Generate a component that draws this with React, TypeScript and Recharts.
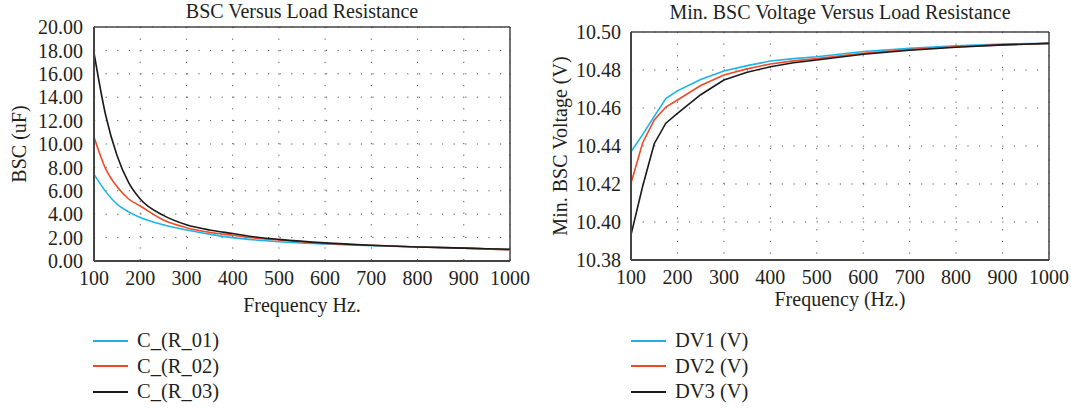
import { LineChart, Line, XAxis, YAxis, CartesianGrid, ReferenceLine } from 'recharts';

const freq = [100, 125, 150, 175, 200, 250, 300, 350, 400, 450, 500, 600, 700, 800, 900, 1000];

// BSC (uF)
const bscR01 = [7.4, 5.95, 4.85, 4.2, 3.72, 3.1, 2.65, 2.3, 2.0, 1.8, 1.65, 1.45, 1.3, 1.2, 1.1, 0.97];
const bscR02 = [10.6, 7.9, 6.35, 5.3, 4.7, 3.5, 2.85, 2.45, 2.2, 1.95, 1.8, 1.5, 1.35, 1.2, 1.1, 0.95];
const bscR03 = [17.8, 12.5, 9.0, 6.7, 5.3, 3.9, 3.1, 2.65, 2.35, 2.05, 1.85, 1.55, 1.35, 1.2, 1.1, 1.0];

// Min. BSC voltage (V)
const dv1 = [10.437, 10.446, 10.4556, 10.465, 10.469, 10.475, 10.4795, 10.4823, 10.4847, 10.486, 10.487, 10.4897, 10.4914, 10.4928, 10.4937, 10.494];
const dv2 = [10.4204, 10.4416, 10.4537, 10.4605, 10.4642, 10.4718, 10.4774, 10.4806, 10.4832, 10.4848, 10.486, 10.4888, 10.4907, 10.4922, 10.4932, 10.494];
const dv3 = [10.3932, 10.4187, 10.4412, 10.452, 10.4572, 10.467, 10.4747, 10.4788, 10.4817, 10.4838, 10.4853, 10.4883, 10.4904, 10.492, 10.4932, 10.494];

const xTicks = [100, 200, 300, 400, 500, 600, 700, 800, 900, 1000];
const bscTicks = [0, 2, 4, 6, 8, 10, 12, 14, 16, 18, 20];
const dvTicks = [10.38, 10.4, 10.42, 10.44, 10.46, 10.48, 10.5];

const bscNames = ['C_(R_01)', 'C_(R_02)', 'C_(R_03)'];
const dvNames = ['DV1 (V)', 'DV2 (V)', 'DV3 (V)'];
const colors = ['#1cb4e8', '#f04a2a', '#1a1a1a'];

const bscData = freq.map((f, i) => ({ f, r1: bscR01[i], r2: bscR02[i], r3: bscR03[i] }));
const dvData = freq.map((f, i) => ({ f, d1: dv1[i], d2: dv2[i], d3: dv3[i] }));

const FONT = '"Liberation Serif", "DejaVu Serif", serif';
const TEXT = '#231f20';
const tickStyle = { fontSize: 20, fill: TEXT, fontFamily: FONT };

function LegendBlock({ names, left }: { names: string[]; left: number }) {
  return (
    <div style={{ position: 'absolute', left, top: 328, fontFamily: FONT, fontSize: 20.5, color: TEXT }}>
      {names.map((n, i) => (
        <div key={n} style={{ display: 'flex', alignItems: 'center', height: 25.5 }}>
          <svg width={44} height={4} style={{ display: 'block' }}>
            <line x1={0} y1={2} x2={35} y2={2} stroke={colors[i]} strokeWidth={2} />
          </svg>
          <span>{n}</span>
        </div>
      ))}
    </div>
  );
}

function Title({ text, center, top }: { text: string; center: number; top: number }) {
  return (
    <div
      style={{
        position: 'absolute',
        left: center - 250,
        width: 500,
        top,
        textAlign: 'center',
        fontFamily: FONT,
        fontSize: 20,
        color: TEXT,
        lineHeight: '22px',
      }}
    >
      {text}
    </div>
  );
}

export default function App() {
  return (
    <div style={{ position: 'absolute', left: 0, top: 0, width: 1071, height: 409, background: '#fff' }}>
      <Title text="BSC Versus Load Resistance" center={302} top={0} />
      <Title text="Min. BSC Voltage Versus Load Resistance" center={840} top={1} />

      <div style={{ position: 'absolute', left: 0, top: 0 }}>
        <LineChart width={540} height={409} data={bscData} margin={{ top: 27, right: 30, bottom: 88, left: 0 }}>
          <CartesianGrid stroke="#555" strokeDasharray="1.2 10.4" />
          <XAxis
            dataKey="f"
            type="number"
            domain={[100, 1000]}
            ticks={xTicks}
            tickLine={false}
            tickSize={0}
            tickMargin={10}
            height={60}
            axisLine={{ stroke: '#444', strokeWidth: 2 }}
            tick={tickStyle}
            interval={0}
            label={{ value: 'Frequency Hz.', position: 'insideBottom', offset: 9, style: { ...tickStyle, textAnchor: 'middle' } }}
          />
          <YAxis
            type="number"
            domain={[0, 20]}
            ticks={bscTicks}
            tickFormatter={(v: number) => v.toFixed(2)}
            tickLine={false}
            tickSize={0}
            tickMargin={11}
            width={94}
            axisLine={{ stroke: '#444', strokeWidth: 2 }}
            tick={tickStyle}
            interval={0}
            label={{ value: 'BSC (uF)', angle: -90, position: 'insideLeft', offset: 19, style: { ...tickStyle, textAnchor: 'middle' } }}
          />
          <ReferenceLine y={20} stroke="#444" strokeWidth={1.5} />
          <ReferenceLine x={1000} stroke="#444" strokeWidth={1.5} />
          <Line type="monotone" dataKey="r1" stroke={colors[0]} strokeWidth={1.6} dot={false} isAnimationActive={false} />
          <Line type="monotone" dataKey="r2" stroke={colors[1]} strokeWidth={1.6} dot={false} isAnimationActive={false} />
          <Line type="monotone" dataKey="r3" stroke={colors[2]} strokeWidth={1.6} dot={false} isAnimationActive={false} />
        </LineChart>
      </div>

      <div style={{ position: 'absolute', left: 540, top: 0 }}>
        <LineChart width={531} height={409} data={dvData} margin={{ top: 32, right: 22, bottom: 89, left: 0 }}>
          <CartesianGrid stroke="#555" strokeDasharray="1.2 10.4" />
          <XAxis
            dataKey="f"
            type="number"
            domain={[100, 1000]}
            ticks={xTicks}
            tickLine={false}
            tickSize={0}
            tickMargin={10}
            height={60}
            axisLine={{ stroke: '#444', strokeWidth: 2 }}
            tick={tickStyle}
            interval={0}
            label={{ value: 'Frequency (Hz.)', position: 'insideBottom', offset: 14, style: { ...tickStyle, textAnchor: 'middle' } }}
          />
          <YAxis
            type="number"
            domain={[10.38, 10.5]}
            ticks={dvTicks}
            tickFormatter={(v: number) => v.toFixed(2)}
            tickLine={false}
            tickSize={0}
            tickMargin={10}
            width={91}
            axisLine={{ stroke: '#444', strokeWidth: 2 }}
            tick={tickStyle}
            interval={0}
            allowDataOverflow
            label={{ value: 'Min. BSC Voltage (V)', angle: -90, position: 'insideLeft', offset: 20, style: { ...tickStyle, textAnchor: 'middle' } }}
          />
          <ReferenceLine y={10.5} stroke="#444" strokeWidth={1.5} />
          <ReferenceLine x={1000} stroke="#444" strokeWidth={1.5} />
          <Line type="linear" dataKey="d1" stroke={colors[0]} strokeWidth={1.6} dot={false} isAnimationActive={false} />
          <Line type="linear" dataKey="d2" stroke={colors[1]} strokeWidth={1.6} dot={false} isAnimationActive={false} />
          <Line type="linear" dataKey="d3" stroke={colors[2]} strokeWidth={1.6} dot={false} isAnimationActive={false} />
        </LineChart>
      </div>

      <LegendBlock names={bscNames} left={93} />
      <LegendBlock names={dvNames} left={631} />
    </div>
  );
}
